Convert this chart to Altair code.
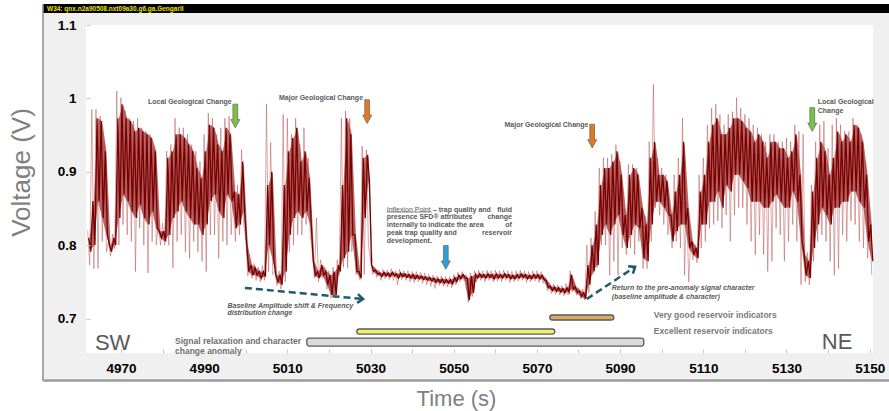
import math
import altair as alt
import pandas as pd

# ---------------------------------------------------------------------------
# Signal envelope, one sample per second (voltage, V)
# core_*: dense body of the trace, peak_*: spikes around it
# ---------------------------------------------------------------------------
seconds = list(range(4962, 5151))

core_hi = [
    0.810, 0.860, 0.973, 0.969, 0.928, 0.800, 0.810, 0.973, 0.992, 0.973,
    0.969, 0.955, 0.960, 0.955, 0.951, 0.946, 0.928, 0.819, 0.819, 0.919,
    0.928, 0.951, 0.951, 0.946, 0.937, 0.928, 0.905, 0.891, 0.928, 0.964,
    0.960, 0.937, 0.928, 0.960, 0.951, 0.873, 0.869, 0.914, 0.800, 0.773,
    0.769, 0.764, 0.764, 0.882, 0.900, 0.759, 0.759, 0.882, 0.928, 0.946,
    0.960, 0.914, 0.928, 0.891, 0.778, 0.764, 0.773, 0.764, 0.759, 0.764,
    0.773, 0.882, 0.973, 0.951, 0.814, 0.764, 0.919, 0.923, 0.773, 0.766,
    0.762, 0.763, 0.762, 0.763, 0.761, 0.762, 0.761, 0.760, 0.760, 0.759,
    0.758, 0.757, 0.756, 0.755, 0.754, 0.754, 0.753, 0.753, 0.756, 0.759,
    0.760, 0.755, 0.758, 0.760, 0.761, 0.760, 0.761, 0.760, 0.761, 0.760,
    0.761, 0.760, 0.759, 0.760, 0.761, 0.760, 0.759, 0.760, 0.760, 0.759,
    0.752, 0.744, 0.743, 0.742, 0.741, 0.742, 0.760, 0.743, 0.738, 0.735,
    0.773, 0.800, 0.828, 0.882, 0.905, 0.905, 0.914, 0.928, 0.896, 0.841,
    0.896, 0.905, 0.896, 0.851, 0.828, 0.919, 0.941, 0.896, 0.896, 0.887,
    0.841, 0.873, 0.896, 0.941, 0.851, 0.805, 0.796, 0.873, 0.896, 0.941,
    0.964, 0.973, 0.951, 0.951, 0.960, 0.973, 0.973, 0.969, 0.960, 0.955,
    0.941, 0.951, 0.941, 0.919, 0.941, 0.941, 0.932, 0.932, 0.919, 0.928,
    0.951, 0.896, 0.787, 0.778, 0.873, 0.919, 0.941, 0.928, 0.896, 0.919,
    0.955, 0.941, 0.951, 0.941, 0.964, 0.960, 0.941, 0.896, 0.828,
]

core_lo = [
    0.791, 0.800, 0.860, 0.837, 0.814, 0.791, 0.800, 0.837, 0.869, 0.860,
    0.846, 0.837, 0.855, 0.837, 0.828, 0.846, 0.823, 0.810, 0.805, 0.814,
    0.837, 0.846, 0.860, 0.846, 0.837, 0.828, 0.828, 0.814, 0.828, 0.860,
    0.869, 0.846, 0.837, 0.869, 0.860, 0.823, 0.828, 0.846, 0.764, 0.759,
    0.759, 0.755, 0.757, 0.800, 0.780, 0.750, 0.746, 0.764, 0.814, 0.837,
    0.846, 0.837, 0.846, 0.828, 0.759, 0.755, 0.759, 0.746, 0.732, 0.732,
    0.764, 0.782, 0.791, 0.814, 0.764, 0.755, 0.837, 0.887, 0.764, 0.760,
    0.757, 0.758, 0.757, 0.758, 0.755, 0.757, 0.756, 0.755, 0.754, 0.754,
    0.753, 0.752, 0.751, 0.749, 0.749, 0.748, 0.748, 0.747, 0.750, 0.754,
    0.755, 0.725, 0.735, 0.755, 0.756, 0.755, 0.756, 0.754, 0.755, 0.755,
    0.756, 0.754, 0.754, 0.755, 0.756, 0.754, 0.754, 0.755, 0.754, 0.753,
    0.742, 0.738, 0.737, 0.736, 0.735, 0.736, 0.740, 0.735, 0.730, 0.727,
    0.746, 0.764, 0.773, 0.814, 0.828, 0.814, 0.828, 0.841, 0.814, 0.796,
    0.814, 0.828, 0.823, 0.782, 0.778, 0.828, 0.859, 0.859, 0.851, 0.841,
    0.805, 0.819, 0.828, 0.828, 0.796, 0.787, 0.782, 0.828, 0.828, 0.859,
    0.859, 0.873, 0.851, 0.882, 0.873, 0.896, 0.896, 0.887, 0.878, 0.859,
    0.859, 0.859, 0.851, 0.851, 0.859, 0.869, 0.859, 0.851, 0.851, 0.873,
    0.859, 0.805, 0.759, 0.755, 0.796, 0.828, 0.851, 0.841, 0.828, 0.851,
    0.851, 0.859, 0.859, 0.873, 0.873, 0.859, 0.851, 0.805, 0.778,
]

peak_hi = [
    0.820, 0.985, 0.985, 0.976, 0.940, 0.805, 0.815, 1.010, 1.001, 0.983,
    0.973, 0.969, 0.973, 0.960, 0.955, 0.951, 0.932, 0.830, 0.830, 0.928,
    0.937, 0.973, 0.960, 0.960, 0.951, 0.937, 0.928, 0.914, 0.951, 0.980,
    0.973, 0.951, 0.960, 0.973, 0.976, 0.882, 0.882, 0.930, 0.810, 0.778,
    0.775, 0.770, 0.772, 0.992, 0.940, 0.765, 0.765, 0.978, 0.973, 0.951,
    0.973, 0.937, 0.960, 0.919, 0.790, 0.837, 0.780, 0.770, 0.765, 0.770,
    0.780, 0.973, 0.983, 0.973, 0.830, 0.770, 0.935, 0.930, 0.780, 0.770,
    0.766, 0.767, 0.766, 0.768, 0.765, 0.767, 0.765, 0.765, 0.764, 0.764,
    0.763, 0.762, 0.760, 0.759, 0.758, 0.758, 0.757, 0.757, 0.760, 0.763,
    0.764, 0.760, 0.762, 0.765, 0.766, 0.765, 0.766, 0.765, 0.766, 0.765,
    0.766, 0.765, 0.764, 0.765, 0.766, 0.765, 0.764, 0.765, 0.765, 0.764,
    0.756, 0.748, 0.747, 0.746, 0.745, 0.748, 0.765, 0.746, 0.742, 0.740,
    0.800, 0.810, 0.846, 0.905, 0.919, 0.919, 0.924, 0.937, 0.914, 0.851,
    0.910, 0.910, 0.905, 0.860, 0.840, 0.941, 1.019, 0.919, 0.905, 0.896,
    0.850, 0.896, 0.919, 0.973, 0.860, 0.810, 0.800, 0.896, 0.919, 0.964,
    0.987, 0.992, 0.978, 0.964, 0.978, 0.982, 1.001, 0.987, 0.978, 0.973,
    0.964, 0.960, 0.951, 0.941, 0.951, 0.951, 0.941, 0.941, 0.946, 0.941,
    0.964, 0.955, 0.951, 0.790, 0.882, 0.941, 0.964, 0.969, 0.932, 0.964,
    0.973, 0.964, 0.955, 0.955, 0.973, 0.964, 0.951, 0.914, 0.840,
]

peak_lo = [
    0.773, 0.768, 0.768, 0.805, 0.791, 0.785, 0.795, 0.800, 0.828, 0.814,
    0.805, 0.764, 0.823, 0.800, 0.762, 0.805, 0.800, 0.800, 0.800, 0.800,
    0.769, 0.805, 0.814, 0.791, 0.782, 0.805, 0.791, 0.778, 0.764, 0.814,
    0.814, 0.782, 0.805, 0.800, 0.814, 0.805, 0.814, 0.828, 0.758, 0.755,
    0.752, 0.750, 0.752, 0.764, 0.760, 0.745, 0.740, 0.750, 0.791, 0.800,
    0.814, 0.814, 0.828, 0.814, 0.755, 0.750, 0.755, 0.740, 0.728, 0.728,
    0.760, 0.770, 0.769, 0.791, 0.760, 0.752, 0.760, 0.800, 0.760, 0.756,
    0.752, 0.754, 0.753, 0.752, 0.746, 0.753, 0.752, 0.750, 0.749, 0.750,
    0.748, 0.746, 0.744, 0.741, 0.745, 0.744, 0.743, 0.742, 0.746, 0.750,
    0.751, 0.722, 0.730, 0.750, 0.752, 0.750, 0.752, 0.750, 0.751, 0.750,
    0.752, 0.749, 0.750, 0.751, 0.752, 0.749, 0.750, 0.751, 0.749, 0.748,
    0.738, 0.734, 0.733, 0.732, 0.731, 0.732, 0.736, 0.732, 0.727, 0.725,
    0.735, 0.760, 0.770, 0.800, 0.800, 0.759, 0.778, 0.759, 0.796, 0.787,
    0.796, 0.787, 0.805, 0.768, 0.768, 0.805, 0.851, 0.841, 0.828, 0.814,
    0.796, 0.805, 0.796, 0.759, 0.750, 0.780, 0.776, 0.796, 0.805, 0.823,
    0.828, 0.833, 0.823, 0.841, 0.805, 0.841, 0.851, 0.851, 0.828, 0.805,
    0.787, 0.814, 0.787, 0.764, 0.778, 0.823, 0.814, 0.778, 0.805, 0.828,
    0.805, 0.746, 0.750, 0.746, 0.778, 0.805, 0.814, 0.805, 0.778, 0.759,
    0.768, 0.814, 0.805, 0.833, 0.828, 0.805, 0.796, 0.782, 0.759,
]

# Axis ticks and extents
x_ticks = list(range(4970, 5151, 10))
y_ticks = [0.7, 0.8, 0.9, 1.0, 1.1]
X_DOMAIN = [4961.6, 5150.8]
Y_DOMAIN = [0.653, 1.1]

# Interpretation bars along the bottom (time span, voltage band)
bar_names = ["Very good", "Excellent", "Relaxation"]
bar_start = [5073.1, 5026.7, 5014.7]
bar_end = [5088.5, 5074.3, 5095.7]
bar_top = [0.7048, 0.6857, 0.6734]
bar_bottom = [0.6980, 0.6788, 0.6624]
bar_colors = ["#dcaa66", "#f2ee6e", "#dadada"]

# Block arrows marking geological changes
green_arrow_t = [4997.5, 5136.2]
green_arrow_v = [0.976, 0.9712]
orange_arrow_t = [5029.2, 5083.3]
orange_arrow_v = [0.982, 0.9486]
blue_arrow_t = [5048.1]
blue_arrow_v = [0.7833]

# Dashed trend arrows (start -> end)
trend_id = ["shift", "return"]
trend_t0 = [4999.8, 5082.0]
trend_v0 = [0.7417, 0.7266]
trend_t1 = [5028.2, 5093.6]
trend_v1 = [0.7266, 0.7704]

FONT = "Liberation Sans"
W, H = 787, 328
TITLE_BAR = "W34: qnx.n2a90508.nxt09a30.g6.ga.GengarII"


def trace(hi, lo, lead):
    ts, vs = [], []
    for s, h, l in zip(seconds, hi, lo):
        ts += [s + lead, s + lead + 0.5]
        vs += [h, l]
    return pd.DataFrame({"t": ts, "v": vs, "k": list(range(len(ts)))})


x_scale = alt.Scale(domain=X_DOMAIN, nice=False, zero=False)
y_scale = alt.Scale(domain=Y_DOMAIN, nice=False, zero=False)

x_axis = alt.Axis(
    title="Time (s)", values=x_ticks, format="d",
    labelExpr="datum.value % 20 == 10 ? datum.label : ''",
    labelFont=FONT, labelFontSize=13.5, labelFontWeight="bold", labelColor="black",
    labelPadding=8, labelFlush=False, labelOverlap=False,
    ticks=True, tickSize=4, tickColor="#c8c8c8", offset=-4,
    domain=False, grid=False,
    titleFont=FONT, titleFontSize=22, titleFontWeight="normal", titleColor="#808080",
    titleX=370, titleY=49, titleAlign="center", titleBaseline="middle", zindex=1,
)
y_axis = alt.Axis(
    title="Voltage (V)", values=y_ticks, format="~g",
    labelFont=FONT, labelFontSize=13.5, labelFontWeight="bold", labelColor="black",
    labelPadding=10, labelFlush=False, labelOverlap=False,
    ticks=True, tickSize=4, tickColor="#c8c8c8", offset=-4,
    domain=False, grid=False,
    titleFont=FONT, titleFontSize=26, titleFontWeight="normal", titleColor="#808080",
    titleX=-69, titleY=147, titleAlign="center", titleBaseline="middle", zindex=1,
)


def X(field="t"):
    return alt.X(f"{field}:Q", scale=x_scale, axis=x_axis)


def Y(field="v"):
    return alt.Y(f"{field}:Q", scale=y_scale, axis=y_axis)


one = pd.DataFrame({"label": [TITLE_BAR]})

# Window frame: grey panel, white plotting area, black caption bar
panel = alt.Chart(one).mark_rect(fill="#f0f0f0").encode(
    x=alt.value(-43), x2=alt.value(803), y=alt.value(-12), y2=alt.value(355))
plot_bg = alt.Chart(one).mark_rect(fill="white").encode(
    x=alt.value(0), x2=alt.value(W), y=alt.value(0), y2=alt.value(H))
caption_bar = alt.Chart(one).mark_rect(fill="black").encode(
    x=alt.value(-43), x2=alt.value(803), y=alt.value(-21), y2=alt.value(-12))
caption_text = alt.Chart(one).mark_text(
    align="left", baseline="middle", font=FONT, fontSize=6.5, fontWeight="bold",
    color="#e6e600").encode(x=alt.value(-39), y=alt.value(-16.5), text="label:N")
left_edge = alt.Chart(one).mark_rule(color="#8c8c8c", strokeWidth=1.5).encode(
    x=alt.value(-43), y=alt.value(-21), y2=alt.value(356))
bottom_edge = alt.Chart(one).mark_rule(color="#9c9c9c", strokeWidth=2.5).encode(
    x=alt.value(-43), x2=alt.value(803), y=alt.value(355.5))

# Voltage trace: shaded body band, spikes, then the dense body trace
env_df = pd.DataFrame({"t": [s + 0.5 for s in seconds], "v": core_hi, "v2": core_lo})
body_band = alt.Chart(env_df).mark_area(
    color="#880808", opacity=0.62, interpolate="linear").encode(
    x=X(), y=Y(), y2="v2:Q")
spikes = alt.Chart(trace(peak_hi, peak_lo, 0.0)).mark_line(
    color="#b34a4a", strokeWidth=0.8, opacity=0.6).encode(
    x=X(), y=Y(), order="k:Q")
body = alt.Chart(trace(core_hi, core_lo, 0.25)).mark_line(
    color="#780000", strokeWidth=1.3).encode(
    x=X(), y=Y(), order="k:Q")

# Interpretation bars
bars_df = pd.DataFrame({"name": bar_names, "t": bar_start, "t2": bar_end,
                        "v": bar_top, "v2": bar_bottom})
bars = alt.Chart(bars_df).mark_rect(
    stroke="#5a5a5a", strokeWidth=1.3, cornerRadius=2.5).encode(
    x=X(), x2="t2:Q", y=Y(), y2="v2:Q",
    fill=alt.Fill("name:N", scale=alt.Scale(domain=bar_names, range=bar_colors),
                  legend=None))

# Block arrows (down-pointing)
ARROW = "M-0.2,-1L0.2,-1L0.2,0.3L0.38,0.3L0,1L-0.38,0.3L-0.2,0.3Z"


def block_arrows(ts, vs, colour):
    return alt.Chart(pd.DataFrame({"t": ts, "v": vs})).mark_point(
        shape=ARROW, filled=True, size=560, fill=colour, fillOpacity=1,
        stroke="#6a6a6a", strokeWidth=0.8, opacity=1).encode(x=X(), y=Y())


green = block_arrows(green_arrow_t, green_arrow_v, "#7cc242")
orange = block_arrows(orange_arrow_t, orange_arrow_v, "#e07a1c")
blue = block_arrows(blue_arrow_t, blue_arrow_v, "#2aa0dc")

# Dashed trend arrows with open heads
trend_rows = []
for i, name in enumerate(trend_id):
    trend_rows.append({"id": name, "t": trend_t0[i], "v": trend_v0[i], "k": 0})
    trend_rows.append({"id": name, "t": trend_t1[i], "v": trend_v1[i], "k": 1})
trend_lines = alt.Chart(pd.DataFrame(trend_rows)).mark_line(
    color="#215a68", strokeWidth=2.5, strokeDash=[7, 4]).encode(
    x=X(), y=Y(), detail="id:N", order="k:Q")

px_per_t = W / (X_DOMAIN[1] - X_DOMAIN[0])
px_per_v = H / (Y_DOMAIN[1] - Y_DOMAIN[0])
head_angle = [
    math.degrees(math.atan2(-(trend_v1[i] - trend_v0[i]) * px_per_v,
                            (trend_t1[i] - trend_t0[i]) * px_per_t)) % 360
    for i in range(len(trend_id))
]
CHEVRON = "M-1,-0.8L0,0L-1,0.8"
trend_heads = alt.Chart(pd.DataFrame({"t": trend_t1, "v": trend_v1, "a": head_angle})).mark_point(
    shape=CHEVRON, filled=False, size=120, stroke="#215a68", strokeWidth=2.6,
    opacity=1).encode(x=X(), y=Y(), angle=alt.Angle("a:Q", scale=None))

# Underline under "Inflexion Point"
underline = alt.Chart(pd.DataFrame({"t": [5033.9], "t2": [5044.7], "v": [0.8451]})).mark_rule(
    color="#595959", strokeWidth=0.7).encode(x=X(), x2="t2:Q", y=Y())


def labels(texts, ts, vs, align="left", size=7, weight="bold", style="normal",
           colour="#595959"):
    df = pd.DataFrame({"label": texts, "t": ts, "v": vs})
    return alt.Chart(df).mark_text(
        align=align, baseline="middle", font=FONT, fontSize=size,
        fontWeight=weight, fontStyle=style, color=colour).encode(
        x=X(), y=Y(), text="label:N")


geo_right = labels(["Local Geological Change", "Major Geological Change", "Major Geological Change"],
                   [4996.6, 5028.2, 5082.4], [0.9945, 1.0, 0.9637], align="right")
geo_left = labels(["Local Geological", "Change"], [5137.5, 5137.5], [0.9944, 0.983])

# Justified paragraph: line starts on the left edge, last words on the right edge
INFL_LEFT, INFL_RIGHT = 5033.9, 5064.0
infl_rows = [0.8482, 0.8377, 0.8268, 0.8164, 0.8063]
inflexion_head = labels(["Inflexion Point"], [INFL_LEFT], [infl_rows[0]], weight="normal")
inflexion_left = labels(
    ["\u2013 trap quality and", "presence SFD\u00ae attributes",
     "internally to indicate the area", "peak   trap   quality   and", "development."],
    [5045.0, INFL_LEFT, INFL_LEFT, INFL_LEFT, INFL_LEFT], infl_rows)
inflexion_right = labels(["fluid", "change", "of", "reservoir"],
                         [INFL_RIGHT] * 4, infl_rows[:4], align="right")

shift_note = labels(["Baseline Amplitude shift & Frequency", "distribution change"],
                    [4995.6, 4995.6], [0.7175, 0.7075], style="italic")
return_note = labels(["Return to the pre-anomaly signal character",
                      "(baseline amplitude & character)"],
                     [5088.0, 5088.0], [0.7417, 0.7298], style="italic")

bar_labels = labels(["Very good reservoir indicators", "Excellent reservoir indicators"],
                    [5098.1, 5098.1], [0.7048, 0.6833], size=8.5, colour="#7a7a7a")
relax_label = labels(["Signal relaxation and character", "change anomaly"],
                     [4983.0, 4983.0], [0.6693, 0.6556], size=8.5, colour="#6e6e6e")

ends = labels(["SW", "NE"], [4963.75, 5138.5], [0.6665, 0.668], size=22,
              weight="normal", colour="#595959")

chart = alt.layer(
    panel, plot_bg, caption_bar, caption_text, left_edge, bottom_edge,
    body_band, spikes, body, bars, green, orange, blue, trend_lines, trend_heads,
    underline, geo_right, geo_left, inflexion_head, inflexion_left, inflexion_right,
    shift_note, return_note, bar_labels, relax_label, ends,
).properties(
    width=W, height=H, background="white",
    padding={"left": 86, "top": 25, "right": 16, "bottom": 58},
    autosize=alt.AutoSizeParams(type="none"),
).configure_view(stroke=None, fill="white")

chart.save("out.html", embed_options={"renderer": "svg", "actions": False})
